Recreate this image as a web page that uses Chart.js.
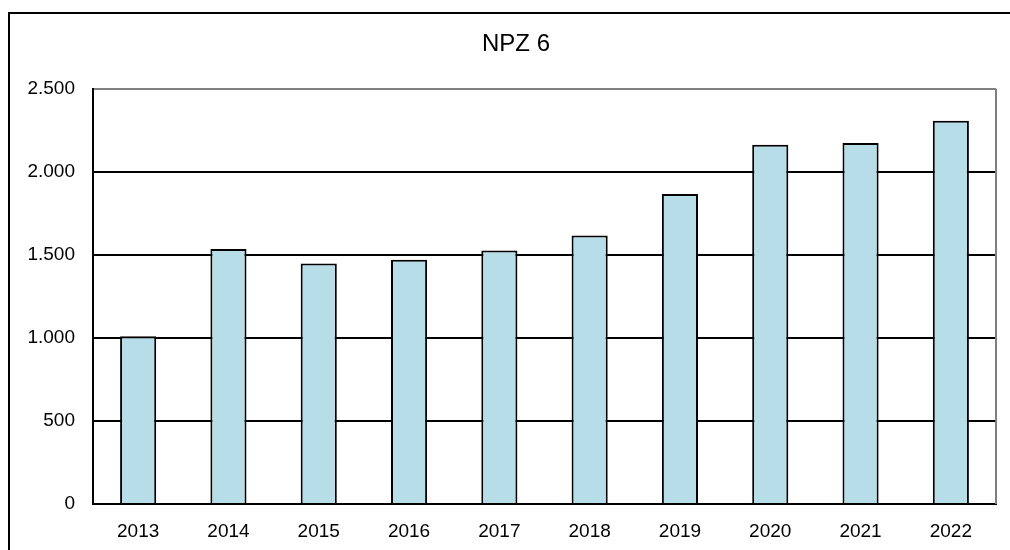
<!DOCTYPE html>
<html>
<head>
<meta charset="utf-8">
<script src="https://cdn.jsdelivr.net/npm/chart.js@4/dist/chart.umd.min.js"></script>
<style>
    body { margin: 0; background: #fff; }
    canvas { display: block; }
</style>
</head>
<body>
<canvas id="npzChart" width="1010" height="550"></canvas>
<script>
const years = ["2013", "2014", "2015", "2016", "2017", "2018", "2019", "2020", "2021", "2022"];
const npzValues = [1010, 1536, 1448, 1470, 1526, 1616, 1866, 2163, 2173, 2307];
const chartTitle = "NPZ 6";

// thousands with a dot, like 2.500
function formatNumber(v) {
    return String(v).replace(/\B(?=(\d{3})+(?!\d))/g, ".");
}

// outer frame and right edge of the plot area
const framePlugin = {
    id: "frame",
    afterLayout(chart) {
        // title sits centred on the outer frame, not the canvas
        if (chart.titleBlock) chart.titleBlock.left += 36;
    },
    beforeDraw(chart) {
        const ctx = chart.ctx;
        ctx.save();
        ctx.fillStyle = "#fff";
        ctx.fillRect(0, 0, chart.width, chart.height);
        ctx.strokeStyle = "#000";
        ctx.lineWidth = 2;
        ctx.strokeRect(9, 13, chart.width, chart.height);
        ctx.restore();
    },
    beforeDatasetsDraw(chart) {
        const a = chart.chartArea;
        const ctx = chart.ctx;
        ctx.save();
        ctx.strokeStyle = "#808080";
        ctx.lineWidth = 2;
        ctx.beginPath();
        ctx.moveTo(a.right, a.top);
        ctx.lineTo(a.right, a.bottom);
        ctx.stroke();
        ctx.restore();
    }
};

Chart.defaults.font.family = "'Liberation Sans', Arial, sans-serif";
Chart.defaults.color = "#000";

new Chart(document.getElementById("npzChart"), {
    type: "bar",
    data: {
        labels: years,
        datasets: [{
            label: chartTitle,
            data: npzValues,
            backgroundColor: "#b7dde8",
            borderColor: "#000",
            borderWidth: 2,
            barPercentage: 0.4,
            categoryPercentage: 1
        }]
    },
    options: {
        responsive: false,
        animation: false,
        layout: { padding: { left: 0, right: 14, top: 0, bottom: 0 } },
        plugins: {
            legend: { display: false },
            tooltip: { enabled: false },
            title: {
                display: true,
                text: chartTitle,
                font: { size: 24, weight: "normal" },
                color: "#000",
                padding: { top: 30, bottom: 30 }
            }
        },
        scales: {
            x: {
                grid: { display: false, drawTicks: false },
                border: { display: true, color: "#000", width: 2 },
                ticks: { font: { size: 19 }, padding: 16, maxRotation: 0 },
                afterFit(scale) { scale.height = 46; }
            },
            y: {
                min: 0,
                max: 2500,
                grid: {
                    drawTicks: false,
                    lineWidth: 2,
                    color: ctx => (ctx.tick && ctx.tick.value === 2500) ? "#808080" : "#000"
                },
                border: { display: true, color: "#000", width: 2 },
                ticks: {
                    stepSize: 500,
                    font: { size: 19 },
                    padding: 18,
                    callback: v => formatNumber(v)
                },
                afterFit(scale) { scale.width = 93; }
            }
        }
    },
    plugins: [framePlugin]
});
</script>
</body>
</html>
